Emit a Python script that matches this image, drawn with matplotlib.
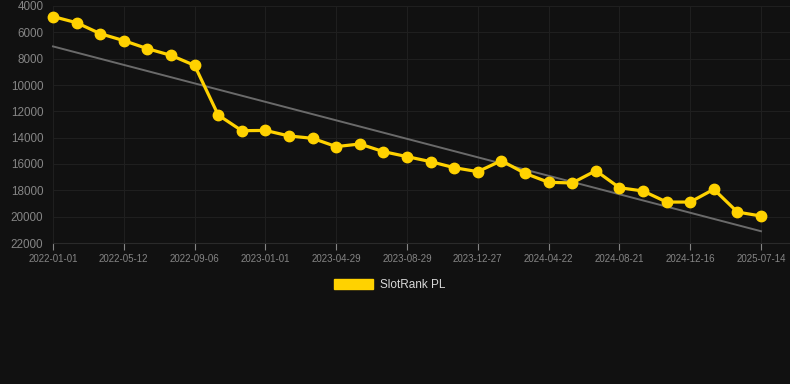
import numpy as np
import matplotlib
matplotlib.use("Agg")
import matplotlib.pyplot as plt
from matplotlib.patches import Patch

plt.rcParams['font.family'] = ['Liberation Sans', 'DejaVu Sans']

tick_labels = ["2022-01-01", "2022-05-12", "2022-09-06", "2023-01-01", "2023-04-29",
               "2023-08-29", "2023-12-27", "2024-04-22", "2024-08-21", "2024-12-16",
               "2025-07-14"]
series_name = "SlotRank PL"
rank = [4800, 5270, 6100, 6630, 7240, 7750, 8510, 12280, 13470, 13450,
        13870, 14050, 14680, 14480, 15060, 15440, 15820, 16280, 16580, 15750,
        16710, 17390, 17440, 16510, 17800, 18050, 18890, 18890, 17920, 19650,
        19950]

bg = "#111111"
yellow = "#FFD200"
grid_c = "#1f1f1f"
text_c = "#858585"

W, H = 790, 384
fig = plt.figure(figsize=(W / 100, H / 100), dpi=100, facecolor=bg)
left, right, top, bottom = 53, 790, 6, 243
ax = fig.add_axes([left / W, 1 - bottom / H, (right - left) / W, (bottom - top) / H])
ax.set_facecolor(bg)

x = np.arange(len(rank))
y = np.array(rank, dtype=float)
coef = np.polyfit(x, y, 1)
ax.plot(x, np.polyval(coef, x), color="#6a6a6a", lw=1.4, zorder=2, clip_on=False)
ax.plot(x, y, color=yellow, lw=2.3, marker="o", markersize=7.5, zorder=3, clip_on=False)

ax.set_ylim(22000, 4000)
ax.set_yticks(np.arange(4000, 22001, 2000))
ax.set_xlim(0, (right - left) / 23.6)
ax.set_xticks(x[::3])
ax.set_xticklabels(tick_labels)

for s in ax.spines.values():
    s.set_visible(False)
ax.spines["bottom"].set_visible(True)
ax.spines["bottom"].set_color("#2a2a2a")
ax.spines["bottom"].set_linewidth(0.8)
ax.grid(True, color=grid_c, lw=0.8)
ax.tick_params(axis="y", colors=text_c, labelsize=8.4, length=0, pad=7)
ax.tick_params(axis="x", colors=text_c, labelsize=7, length=5, width=0.8, pad=3)
for t in ax.get_xticklines():
    t.set_color(grid_c)
ax.set_axisbelow(True)

leg = fig.legend(handles=[Patch(facecolor=yellow, edgecolor=yellow, label=series_name)],
                 loc="center", bbox_to_anchor=(390 / W, 1 - 285 / H), frameon=False,
                 handlelength=3.3, handleheight=1.0, handletextpad=0.6,
                 fontsize=8.5, labelcolor="#d8d8d8")

fig.savefig("out.png", dpi=100, facecolor=bg)
